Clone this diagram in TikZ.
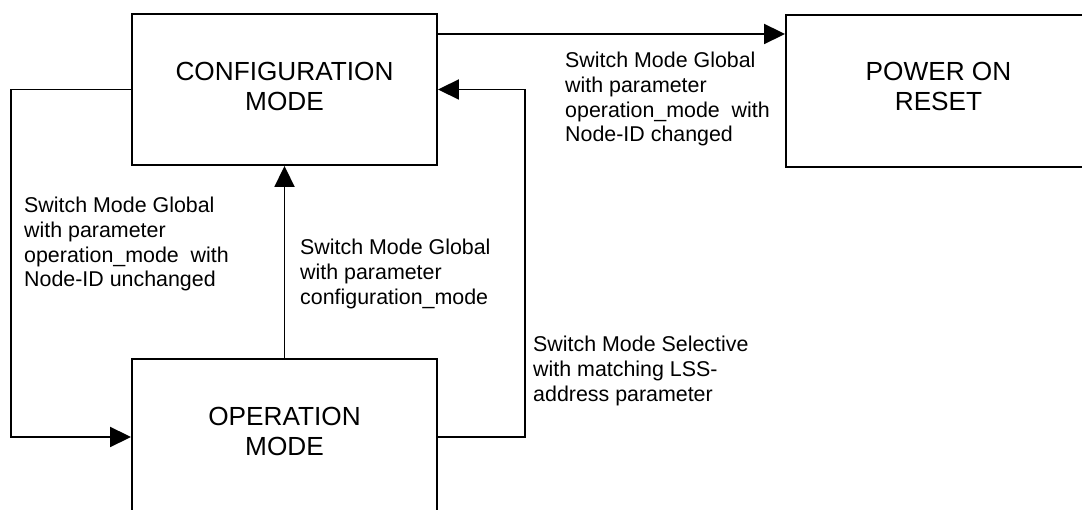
\documentclass[tikz,border=0pt]{standalone}
\usepackage{fontspec}
\setmainfont{Liberation Sans}
\usetikzlibrary{arrows.meta}
\begin{document}
\begin{tikzpicture}[x=1pt,y=-1pt,
  statebox/.style={draw, line width=1.9pt, minimum width=305pt, minimum height=151pt,
    inner sep=0pt, align=center, font=\fontsize{26.2}{30}\selectfont, text depth=7pt},
  conn/.style={line width=1.9pt, -{Triangle[length=21pt,width=20pt]}},
  tlabel/.style={anchor=north west, inner sep=0pt, align=left,
    font=\fontsize{21.4}{24.7}\selectfont}]
\useasboundingbox (0,0) rectangle (1082,510);
\node[statebox] (cfg) at (284.5,89.5) {CONFIGURATION\\MODE};
\node[statebox, minimum height=156pt, text depth=11pt] (op) at (284.5,437) {OPERATION\\MODE};
\node[statebox, minimum height=152pt, text depth=9pt] (por) at (938.5,91) {POWER ON\\RESET};
\coordinate (t) at (0,34);
\draw[conn] (cfg.east |- t) -- (por.west |- t);
\draw[conn] (cfg.west) -- ++(-120,0) |- (op.west);
\draw[conn] (op.north) -- (cfg.south);
\draw[conn] (op.east) -- ++(87,0) |- (cfg.east);
\node[tlabel] (l1) at (565,52) {Switch Mode Global\\with parameter\\operation\_mode\ \ with\\Node-ID changed};
\node[tlabel] (l2) at (24,197) {Switch Mode Global\\with parameter\\operation\_mode\ \ with\\Node-ID unchanged};
\node[tlabel] (l3) at (300,239) {Switch Mode Global\\with parameter\\configuration\_mode};
\node[tlabel] (l4) at (533,336) {Switch Mode Selective\\with matching LSS-\\address parameter};
\end{tikzpicture}
\end{document}
